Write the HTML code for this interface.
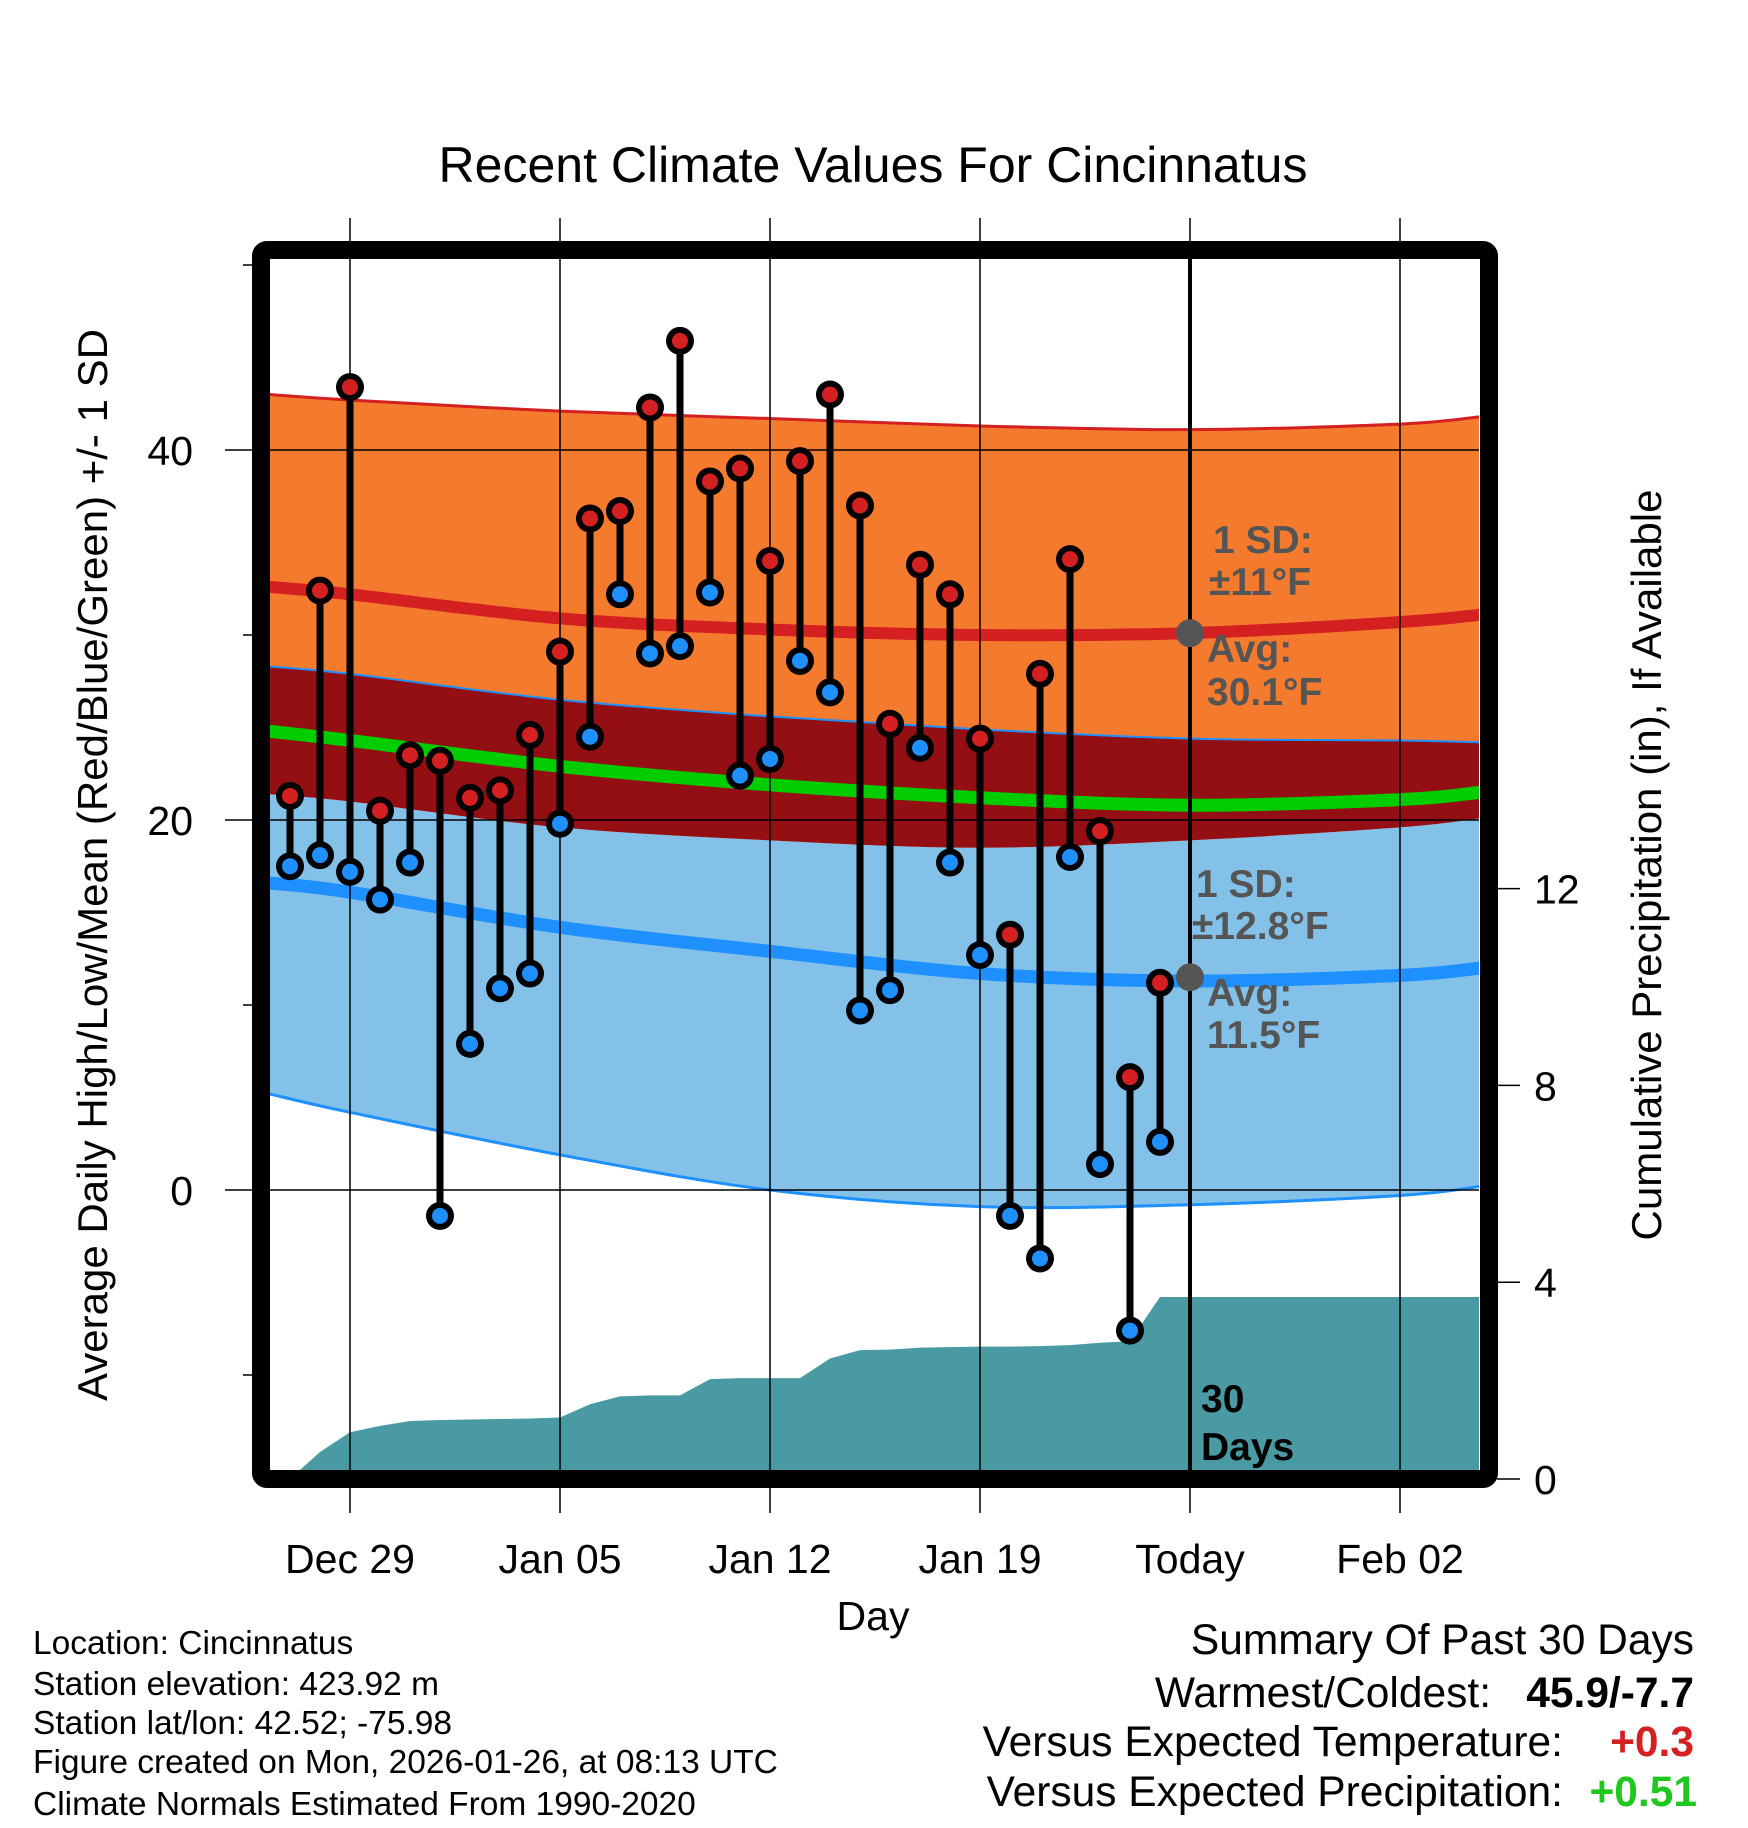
<!DOCTYPE html>
<html><head><meta charset="utf-8"><style>
html,body{margin:0;padding:0;background:#fff}
svg{display:block;font-family:"Liberation Sans",sans-serif}
</style></head><body>
<svg id="chart" width="1748" height="1828" viewBox="0 0 1748 1828" xmlns="http://www.w3.org/2000/svg">
<defs><clipPath id="pc"><rect x="269" y="259" width="1210" height="1211"/></clipPath></defs>
<g id="fills" clip-path="url(#pc)"></g>
<g id="grid"></g>
<g id="marks"></g>
<rect x="261" y="250" width="1228" height="1229" fill="none" stroke="#000" stroke-width="18" rx="6"/>
<g id="labels"></g>
<text x="873" y="182" font-size="50" text-anchor="middle">Recent Climate Values For Cincinnatus</text>
<text x="873" y="1630" font-size="41" text-anchor="middle">Day</text>
<text transform="translate(107,865) rotate(-90)" font-size="42" text-anchor="middle">Average Daily High/Low/Mean (Red/Blue/Green) +/- 1 SD</text>
<text transform="translate(1661,865) rotate(-90)" font-size="42" text-anchor="middle">Cumulative Precipitation (in), If Available</text>
<g font-size="33.5">
<text x="33" y="1654">Location: Cincinnatus</text>
<text x="33" y="1695">Station elevation: 423.92 m</text>
<text x="33" y="1734">Station lat/lon: 42.52; -75.98</text>
<text x="33" y="1773">Figure created on Mon, 2026-01-26, at 08:13 UTC</text>
<text x="33" y="1815">Climate Normals Estimated From 1990-2020</text>
</g>
<g font-size="42.5" text-anchor="end">
<text x="1694" y="1654">Summary Of Past 30 Days</text>
<text x="1491" y="1707">Warmest/Coldest:</text>
<text x="1694" y="1707" font-weight="bold">45.9/-7.7</text>
<text x="1563" y="1756">Versus Expected Temperature:</text>
<text x="1694" y="1756" font-weight="bold" fill="#d42020">+0.3</text>
<text x="1563" y="1806">Versus Expected Precipitation:</text>
<text x="1697" y="1806" font-weight="bold" fill="#1ec81e">+0.51</text>
</g>
</svg>
<script>
const days=[-2,-1,0,1,2,3,4,5,6,7,8,9,10,11,12,13,14,15,16,17,18,19,20,21,22,23,24,25,26,27];
const highs=[21.3,32.4,43.4,20.5,23.5,23.2,21.2,21.6,24.6,29.1,36.3,36.7,42.3,45.9,38.3,39.0,34.0,39.4,43.0,37.0,25.2,33.8,32.2,24.4,13.8,27.9,34.1,19.4,6.1,11.2];
const lows=[17.5,18.1,17.2,15.7,17.7,-1.4,7.9,10.9,11.7,19.8,24.5,32.2,29.0,29.4,32.3,22.4,23.3,28.6,26.9,9.7,10.8,23.9,17.7,12.7,-1.4,-3.7,18.0,1.4,-7.6,2.6];
const precip=[0,0.55,0.95,1.08,1.18,1.2,1.21,1.22,1.23,1.25,1.52,1.68,1.7,1.7,2.03,2.05,2.05,2.05,2.45,2.62,2.63,2.67,2.68,2.69,2.69,2.7,2.72,2.77,2.8,3.7];
const normDays=[-2.7,0,7,14,21,28,35,37.7];
const highP1=[43.0,42.7,42.1,41.7,41.3,41.1,41.4,41.8];
const highMean=[32.6,32.2,30.9,30.3,30.0,30.1,30.7,31.1];
const highM1=[28.3,27.9,26.5,25.6,24.9,24.4,24.3,24.2];
const meanT=[24.8,24.3,22.9,21.9,21.2,20.8,21.1,21.5];
const lowP1=[21.4,21.0,19.6,18.9,18.5,18.9,19.6,20.1];
const lowMean=[16.6,16.1,14.2,12.9,11.7,11.3,11.6,12.0];
const lowM1=[5.2,4.2,1.9,0.0,-0.9,-0.8,-0.3,0.2];
const xTickDays=[0,7,14,21,28,35];
const xTickLabels=["Dec 29","Jan 05","Jan 12","Jan 19","Today","Feb 02"];
const yTicks=[0,20,40];
const yMinor=[-10,10,30,50];
const pTicks=[0,4,8,12];
const todayDay=28, todayHighAvg=30.1, todayLowAvg=11.5;

const NS="http://www.w3.org/2000/svg";
const xD=d=>350+30*d, yT=t=>1190-18.5*t, yP=p=>1479-49.2*p;
function mk(parent,tag,attrs){const e=document.createElementNS(NS,tag);for(const k in attrs)e.setAttribute(k,attrs[k]);parent.appendChild(e);return e;}
const fills=document.getElementById('fills'),grid=document.getElementById('grid'),marks=document.getElementById('marks'),labels=document.getElementById('labels');
function smooth(a){const p=normDays.map((d,i)=>[xD(d),yT(a[i])]);let s='M'+p[0][0]+','+p[0][1];
for(let i=0;i<p.length-1;i++){const p0=p[Math.max(0,i-1)],p1=p[i],p2=p[i+1],p3=p[Math.min(p.length-1,i+2)];
s+=' C'+(p1[0]+(p2[0]-p0[0])/6)+','+(p1[1]+(p2[1]-p0[1])/6)+' '+(p2[0]-(p3[0]-p1[0])/6)+','+(p2[1]-(p3[1]-p1[1])/6)+' '+p2[0]+','+p2[1];}return s;}
function smoothRev(a){const p=normDays.map((d,i)=>[xD(d),yT(a[i])]).reverse();let s=' L'+p[0][0]+','+p[0][1];
for(let i=0;i<p.length-1;i++){const p0=p[Math.max(0,i-1)],p1=p[i],p2=p[i+1],p3=p[Math.min(p.length-1,i+2)];
s+=' C'+(p1[0]+(p2[0]-p0[0])/6)+','+(p1[1]+(p2[1]-p0[1])/6)+' '+(p2[0]-(p3[0]-p1[0])/6)+','+(p2[1]-(p3[1]-p1[1])/6)+' '+p2[0]+','+p2[1];}return s+' Z';}
const band=(a,b)=>smooth(a)+smoothRev(b);
let e;
e=mk(fills,'path',{d:band(highP1,highM1),fill:'#f47b2e'});


e=mk(fills,'path',{d:band(lowP1,lowM1),fill:'#84c1e8'});


e=mk(fills,'path',{d:band(highM1,lowP1),fill:'#930f14'});


const lines=[[highP1,'#d42020',3,'high-plus-sd-line'],[highMean,'#d42020',12,'high-mean-line'],[highM1,'#1e90ff',2,'high-minus-sd-line'],[meanT,'#00cc00',13,'mean-line'],[lowMean,'#1e90ff',13,'low-mean-line'],[lowM1,'#1e90ff',3,'low-minus-sd-line']];
lines.forEach(l=>{e=mk(fills,'path',{d:smooth(l[0]),fill:'none',stroke:l[1],'stroke-width':l[2]});

});
let pp=xD(days[0])+','+yP(0)+' '+days.map((d,i)=>xD(d)+','+yP(precip[i])).join(' ')+' '+xD(38)+','+yP(precip[precip.length-1])+' '+xD(38)+','+yP(0);
e=mk(fills,'polygon',{points:pp,fill:'#4a9aa3'});


xTickDays.forEach((d,i)=>{e=mk(grid,'line',{x1:xD(d),x2:xD(d),y1:218,y2:1513,stroke:'#000','stroke-width':1.5});


e=mk(labels,'text',{x:xD(d),y:1573,'font-size':41,'text-anchor':'middle'});e.textContent=xTickLabels[i];

});
yTicks.forEach(t=>{e=mk(grid,'line',{x1:225,x2:1479,y1:yT(t),y2:yT(t),stroke:'#000','stroke-width':1.5});


e=mk(labels,'text',{x:193,y:yT(t)+15,'font-size':41,'text-anchor':'end'});e.textContent=t;

});
yMinor.forEach(t=>{e=mk(grid,'line',{x1:243,x2:253,y1:yT(t),y2:yT(t),stroke:'#000','stroke-width':1.5});

});
pTicks.forEach(p=>{e=mk(grid,'line',{x1:1497,x2:1520,y1:yP(p),y2:yP(p),stroke:'#000','stroke-width':1.5});


e=mk(labels,'text',{x:1534,y:yP(p)+15,'font-size':41});e.textContent=p;

});
e=mk(marks,'line',{x1:xD(todayDay),x2:xD(todayDay),y1:259,y2:1470,stroke:'#000','stroke-width':4});


[todayHighAvg,todayLowAvg].forEach(v=>{e=mk(marks,'circle',{cx:xD(todayDay),cy:yT(v),r:14,fill:'#555'});

});
days.forEach((d,i)=>{const x=xD(d);
e=mk(marks,'line',{x1:x,x2:x,y1:yT(highs[i]),y2:yT(lows[i]),stroke:'#000','stroke-width':7});


[[highs[i],'#d42020','high-dot'],[lows[i],'#1e90ff','low-dot']].forEach(p=>{
e=mk(marks,'circle',{cx:x,cy:yT(p[0]),r:14,fill:'#000'});


e=mk(marks,'circle',{cx:x,cy:yT(p[0]),r:8,fill:p[1]});

});});
const ann=[[1213,553,'1 SD:'],[1209,595,'±11°F'],[1207,662,'Avg:'],[1207,705,'30.1°F'],[1196,897,'1 SD:'],[1192,939,'±12.8°F'],[1207,1006,'Avg:'],[1207,1048,'11.5°F']];
ann.forEach(a=>{e=mk(labels,'text',{x:a[0],y:a[1],'font-size':39,'font-weight':'bold',fill:'#555'});e.textContent=a[2];

});
[[1201,1412,'30'],[1201,1460,'Days']].forEach(a=>{e=mk(labels,'text',{x:a[0],y:a[1],'font-size':39,'font-weight':'bold',fill:'#000'});e.textContent=a[2];

});
</script>
</body></html>
